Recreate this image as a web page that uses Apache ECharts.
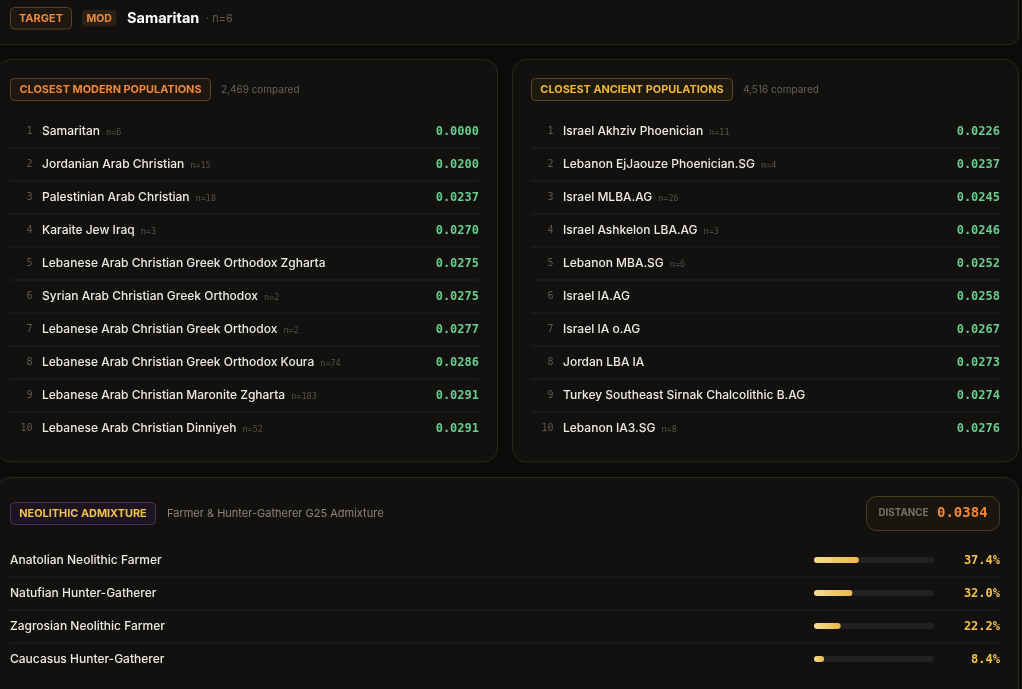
<!DOCTYPE html>
<html>
<head>
<meta charset="utf-8">
<script src="https://cdn.jsdelivr.net/npm/echarts@6/dist/echarts.min.js"></script>
<style>
  html, body { margin: 0; padding: 0; background: #0c0b0a; }
  #chart { width: 1022px; height: 689px; }
</style>
</head>
<body>
<div id="chart"></div>
<script>
// ---- data ----
const targetName = "Samaritan";
const targetN = 6;
const modernCompared = "2,469";
const ancientCompared = "4,516";
const admixDistance = 0.0384;

const modernNames = [
  "Samaritan",
  "Jordanian Arab Christian",
  "Palestinian Arab Christian",
  "Karaite Jew Iraq",
  "Lebanese Arab Christian Greek Orthodox Zgharta",
  "Syrian Arab Christian Greek Orthodox",
  "Lebanese Arab Christian Greek Orthodox",
  "Lebanese Arab Christian Greek Orthodox Koura",
  "Lebanese Arab Christian Maronite Zgharta",
  "Lebanese Arab Christian Dinniyeh"
];
const modernN = [6, 15, 18, 3, null, 2, 2, 74, 183, 52];
const modernDist = [0.0000, 0.0200, 0.0237, 0.0270, 0.0275, 0.0275, 0.0277, 0.0286, 0.0291, 0.0291];

const ancientNames = [
  "Israel Akhziv Phoenician",
  "Lebanon EjJaouze Phoenician.SG",
  "Israel MLBA.AG",
  "Israel Ashkelon LBA.AG",
  "Lebanon MBA.SG",
  "Israel IA.AG",
  "Israel IA o.AG",
  "Jordan LBA IA",
  "Turkey Southeast Sirnak Chalcolithic B.AG",
  "Lebanon IA3.SG"
];
const ancientN = [11, 4, 26, 3, 6, null, null, null, null, 8];
const ancientDist = [0.0226, 0.0237, 0.0245, 0.0246, 0.0252, 0.0258, 0.0267, 0.0273, 0.0274, 0.0276];

const admixNames = [
  "Anatolian Neolithic Farmer",
  "Natufian Hunter-Gatherer",
  "Zagrosian Neolithic Farmer",
  "Caucasus Hunter-Gatherer"
];
const admixPct = [37.4, 32.0, 22.2, 8.4];

// ---- look ----
const SANS = "Inter, 'Noto Sans', sans-serif";
const MONO = "'DejaVu Sans Mono', monospace";
const CARD = "#121110";
const EDGE = "#2c281f";
const SEP = "#25221d";

const chart = echarts.init(document.getElementById("chart"));

// one row of a population list, placed by the category axis
function listRow(names, ns) {
  return function (params, api) {
    const i = api.value(1);
    const y = api.coord([0, i])[1] + 0.5;
    const band = api.size([0, 1])[1];
    const cs = params.coordSys;
    const label = ns[i] != null
      ? "{a|" + names[i] + "}{b|n=" + ns[i] + "}"
      : "{a|" + names[i] + "}";
    const kids = [
      { type: "text", style: { text: String(i + 1), x: cs.x + 22.5, y: y, align: "right", verticalAlign: "middle",
          fill: "#5e5951", font: "10px " + MONO } },
      { type: "text", style: { text: label, x: cs.x + 32, y: y, verticalAlign: "middle",
          rich: {
            a: { fill: "#eeeae4", fontSize: 12, fontWeight: 500, fontFamily: SANS },
            b: { fill: "#57524b", fontSize: 8.5, fontFamily: MONO, padding: [2, 0, 0, 6] }
          } } },
      { type: "text", style: { text: api.value(0).toFixed(4), x: cs.x + cs.width, y: y, align: "right",
          verticalAlign: "middle", fill: "#68cd8c", font: "bold 12px " + MONO } }
    ];
    if (i < names.length - 1) {
      kids.push({ type: "line", shape: { x1: cs.x, y1: y + band / 2, x2: cs.x + cs.width, y2: y + band / 2 },
        style: { stroke: SEP, lineWidth: 1 } });
    }
    return { type: "group", children: kids };
  };
}

function admixRow(params, api) {
  const i = api.value(1);
  const y = api.coord([0, i])[1] + 0.5;
  const band = api.size([0, 1])[1];
  const kids = [
    { type: "text", style: { text: admixNames[i], x: 10, y: y, verticalAlign: "middle",
        fill: "#eeeae4", font: "500 12px " + SANS } },
    { type: "text", style: { text: api.value(0).toFixed(1) + "%", x: 1000, y: y, align: "right",
        verticalAlign: "middle", fill: "#f2c24a", font: "bold 12px " + MONO } }
  ];
  if (i < admixNames.length - 1) {
    kids.push({ type: "line", shape: { x1: 10, y1: y + band / 2, x2: 1000, y2: y + band / 2 },
      style: { stroke: SEP, lineWidth: 1 } });
  }
  return { type: "group", children: kids };
}

function badge(x, y, w, h, text, fill, stroke, color, size) {
  return [
    { type: "rect", shape: { x: x, y: y, width: w, height: h, r: 4 }, style: { fill: fill, stroke: stroke, lineWidth: 1 } },
    { type: "text", x: x + w / 2, y: y + h / 2, style: { text: text, fill: color, font: "bold " + size + "px " + SANS,
        align: "center", verticalAlign: "middle", textAlign: "center", textVerticalAlign: "middle" } }
  ];
}
function label(x, y, text, color, font, align) {
  return { type: "text", x: x, y: y, style: { text: text, fill: color, font: font,
      align: align || "left", verticalAlign: "middle", textAlign: align || "left", textVerticalAlign: "middle" } };
}

const graphics = [].concat(
  // cards
  [
    { type: "rect", z: -10, shape: { x: -10, y: -10, width: 1028.5, height: 54.5, r: 9 }, style: { fill: CARD, stroke: EDGE, lineWidth: 1 } },
    { type: "rect", z: -10, shape: { x: -3.5, y: 59.5, width: 501, height: 402.5, r: 14 }, style: { fill: CARD, stroke: EDGE, lineWidth: 1 } },
    { type: "rect", z: -10, shape: { x: 512.5, y: 59.5, width: 506, height: 402.5, r: 14 }, style: { fill: CARD, stroke: EDGE, lineWidth: 1 } },
    { type: "rect", z: -10, shape: { x: -3.5, y: 477.5, width: 1022, height: 260, r: 14 }, style: { fill: CARD, stroke: EDGE, lineWidth: 1 } }
  ],
  // header strip
  badge(10.5, 7.5, 61, 21.5, "TARGET", "#1d170f", "#5a4322", "#f0883a", 11),
  [{ type: "rect", shape: { x: 82, y: 10, width: 34.5, height: 16.5, r: 4 }, style: { fill: "#2a2116" } },
   label(99.2, 18.5, "MOD", "#f0883a", "bold 10.5px " + SANS, "center"),
   label(127, 18.5, targetName, "#ffffff", "bold 14.5px " + SANS),
   label(206, 18.5, "· n=" + targetN, "#625d56", "11px " + SANS)],
  // list headers
  badge(10.5, 78.5, 200, 22, "CLOSEST MODERN POPULATIONS", "#1d170f", "#5a4322", "#f0883a", 10.9),
  [label(221, 89.5, modernCompared + " compared", "#68635b", "10px " + SANS)],
  badge(531.5, 78.5, 201, 22, "CLOSEST ANCIENT POPULATIONS", "#1d190f", "#5a4a22", "#f2b634", 10.9),
  [label(743, 89.5, ancientCompared + " compared", "#68635b", "10px " + SANS)],
  // admixture header
  badge(10.5, 502.5, 145, 22, "NEOLITHIC ADMIXTURE", "#1c1420", "#4a3258", "#f2c24a", 10.9),
  [label(167, 513.5, "Farmer & Hunter-Gatherer G25 Admixture", "#8b857d", "11px " + SANS),
   { type: "rect", shape: { x: 866.5, y: 496.5, width: 133, height: 34, r: 10 }, style: { fill: "#1a160f", stroke: "#4a3d20", lineWidth: 1 } },
   label(878.5, 513.5, "DISTANCE", "#77716a", "bold 9.8px " + SANS),
   label(937, 513.5, admixDistance.toFixed(4), "#f0883a", "bold 14px " + MONO)]
);

const hiddenX = { type: "value", min: 0, max: 1, show: false };
const hiddenY = (cats) => ({ type: "category", data: cats, inverse: true, show: false });

chart.setOption({
  backgroundColor: "#0c0b0a",
  animation: false,
  graphic: graphics,
  grid: [
    { left: 10, top: 114.5, width: 469, height: 330 },
    { left: 531, top: 114.5, width: 469, height: 330 },
    { left: 814, top: 543.5, width: 120, height: 132 }
  ],
  xAxis: [
    Object.assign({ gridIndex: 0 }, hiddenX),
    Object.assign({ gridIndex: 1 }, hiddenX),
    { gridIndex: 2, type: "value", min: 0, max: 100, show: false }
  ],
  yAxis: [
    Object.assign({ gridIndex: 0 }, hiddenY(modernNames)),
    Object.assign({ gridIndex: 1 }, hiddenY(ancientNames)),
    Object.assign({ gridIndex: 2 }, hiddenY(admixNames))
  ],
  series: [
    { type: "custom", xAxisIndex: 0, yAxisIndex: 0, renderItem: listRow(modernNames, modernN),
      data: modernDist.map((d, i) => [d, i]), encode: { x: 0, y: 1 } },
    { type: "custom", xAxisIndex: 1, yAxisIndex: 1, renderItem: listRow(ancientNames, ancientN),
      data: ancientDist.map((d, i) => [d, i]), encode: { x: 0, y: 1 } },
    { type: "bar", xAxisIndex: 2, yAxisIndex: 2, data: admixPct, barWidth: 6,
      showBackground: true, backgroundStyle: { color: "#232120", borderRadius: 3 },
      itemStyle: { borderRadius: 3, color: new echarts.graphic.LinearGradient(0, 0, 1, 0,
        [{ offset: 0, color: "#f6dc92" }, { offset: 1, color: "#eab843" }]) } },
    { type: "custom", xAxisIndex: 2, yAxisIndex: 2, renderItem: admixRow,
      data: admixPct.map((d, i) => [d, i]), encode: { x: 0, y: 1 } }
  ]
});
</script>
</body>
</html>
